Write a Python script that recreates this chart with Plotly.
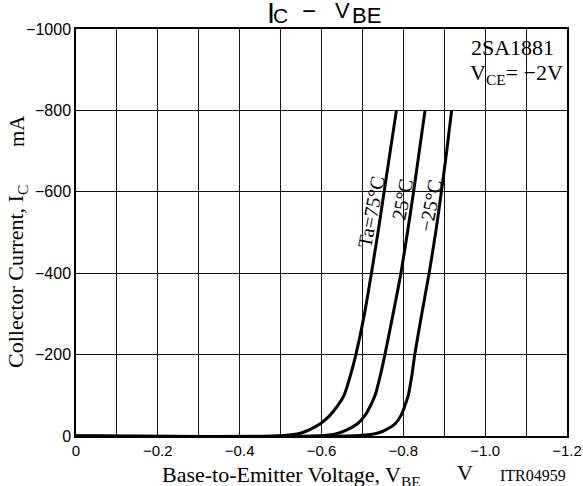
import plotly.graph_objects as go

# ---- data ----
ic = [0, 0, -3, -8, -15, -30, -50, -75, -100, -150, -200, -300, -400, -500, -600, -700, -800]
vbe_75 = [0, -0.48, -0.528, -0.552, -0.570, -0.597, -0.620, -0.640, -0.655, -0.671, -0.684,
          -0.705, -0.722, -0.738, -0.753, -0.768, -0.783]
vbe_25 = [0, -0.58, -0.625, -0.645, -0.662, -0.688, -0.706, -0.720, -0.731, -0.744, -0.755,
          -0.775, -0.794, -0.810, -0.825, -0.839, -0.853]
vbe_m25 = [0, -0.66, -0.715, -0.740, -0.757, -0.780, -0.794, -0.804, -0.812, -0.821, -0.828,
           -0.845, -0.863, -0.879, -0.893, -0.906, -0.918]

x_tickvals = [0, -0.1, -0.2, -0.3, -0.4, -0.5, -0.6, -0.7, -0.8, -0.9, -1.0, -1.1, -1.2]
x_ticktext = ["0", "", "\u22120.2", "", "\u22120.4", "", "\u22120.6", "", "\u22120.8", "", "\u22121.0", "", "\u22121.2"]
y_tickvals = [0, -200, -400, -600, -800, -1000]
y_ticktext = ["0", "\u2212200", "\u2212400", "\u2212600", "\u2212800", "\u22121000"]

SANS = "Liberation Sans, Arial, sans-serif"
SERIF = "Liberation Serif, Times New Roman, serif"

fig = go.Figure()
for v in (vbe_75, vbe_25, vbe_m25):
    fig.add_trace(go.Scatter(x=v, y=ic, mode="lines",
                             line=dict(color="black", width=3, shape="spline", smoothing=0.8),
                             showlegend=False, hoverinfo="skip"))

W, H = 583, 486
L, R, T, B = 76, 16, 29, 50
pw, ph = W - L - R, H - T - B

def px(xp):
    return (xp - L) / pw

def py(yp):
    return (H - B - yp) / ph

fig.update_layout(
    width=W, height=H,
    margin=dict(l=L, r=R, t=T, b=B, autoexpand=False),
    paper_bgcolor="white", plot_bgcolor="white",
    font=dict(family=SANS, color="black", size=15),
)
fig.update_xaxes(range=[0, -1.2], tickvals=x_tickvals, ticktext=x_ticktext,
                 showgrid=True, gridcolor="#111", gridwidth=1, automargin=False,
                 showline=True, linecolor="black", linewidth=1.5, mirror=True,
                 ticks="", zeroline=False, tickfont=dict(family=SANS, size=15))
fig.update_yaxes(range=[0, -1000], tickvals=y_tickvals, ticktext=y_ticktext,
                 showgrid=True, gridcolor="#111", gridwidth=1, automargin=False,
                 showline=True, linecolor="black", linewidth=1.5, mirror=True,
                 ticks="", zeroline=False, tickfont=dict(family=SANS, size=16))

ann = [
    # title "I_C − V_BE" built from pieces
    dict(text="I", x=px(270.5), y=py(13), font=dict(family=SANS, size=29)),
    dict(text="C", x=px(280), y=py(16), font=dict(family=SANS, size=21)),
    dict(text="\u2212", x=px(309), y=py(11), font=dict(family=SANS, size=24)),
    dict(text="V", x=px(342), y=py(11), font=dict(family=SANS, size=22)),
    dict(text="BE", x=px(366), y=py(15), font=dict(family=SANS, size=22)),
    dict(text="2SA1881", x=px(469), y=py(47), xanchor="left", font=dict(family=SERIF, size=22)),
    dict(text="V<sub>CE</sub>= \u22122V", x=px(468), y=py(74), xanchor="left", font=dict(family=SERIF, size=22)),
    dict(text="Ta=75\u00b0C", x=px(371), y=py(212), textangle=-79, font=dict(family=SERIF, size=20)),
    dict(text="25\u00b0C", x=px(402), y=py(200), textangle=-79, font=dict(family=SERIF, size=20)),
    dict(text="\u221225\u00b0C", x=px(430), y=py(206), textangle=-79, font=dict(family=SERIF, size=20)),
    dict(text="Collector Current, I<sub>C</sub>", x=px(17), y=py(277), textangle=-90, font=dict(family=SERIF, size=22)),
    dict(text="mA", x=px(17), y=py(131), textangle=-90, font=dict(family=SERIF, size=21)),
    dict(text="Base-to-Emitter Voltage, V<sub>BE</sub>", x=px(291), y=py(476), font=dict(family=SERIF, size=22)),
    dict(text="V", x=px(465), y=py(473), font=dict(family=SERIF, size=22)),
    dict(text="ITR04959", x=px(533), y=py(475), font=dict(family=SERIF, size=16)),
]
for a in ann:
    a.setdefault("xanchor", "center")
    fig.add_annotation(xref="paper", yref="paper", showarrow=False, yanchor="middle", **a)

fig.write_html("out.html")
